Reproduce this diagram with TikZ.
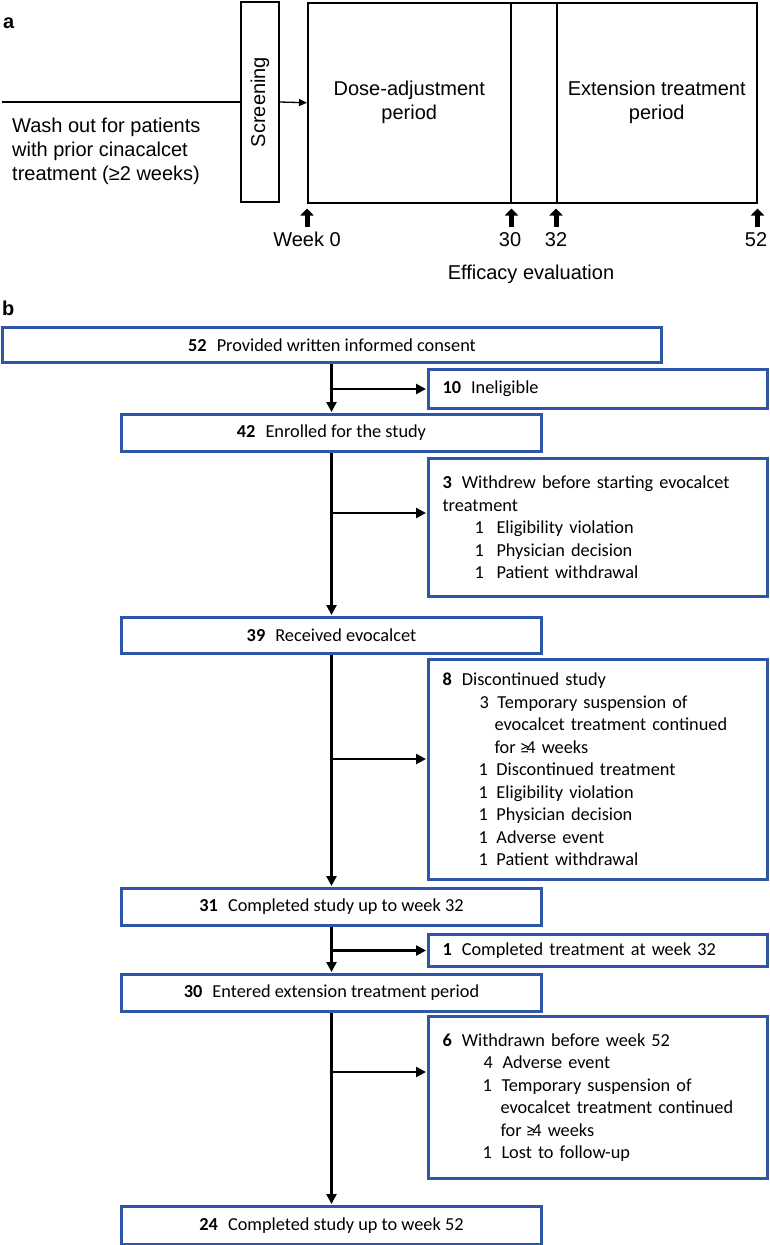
\documentclass[tikz,border=0pt]{standalone}
\usepackage{fontspec}
\usepackage{graphicx}
\setmainfont{Carlito}
\newfontfamily\arialf{Liberation Sans}
\usetikzlibrary{arrows.meta}
\definecolor{boxblue}{RGB}{47,87,168}
\newcommand{\itm}[4]{\hspace*{#1pt}\makebox[\dimexpr #2pt - #1pt\relax][l]{#3}#4}
\newcommand{\cnt}[2]{\hspace*{#1pt}#2}
\newcommand{\bnum}[1]{\textbf{#1}\hspace{0.55em}}
\newcommand{\geqf}{\kern-2pt≥\kern-2.5pt}
\begin{document}
\begin{tikzpicture}[x=1pt,y=-1pt,
  afont/.style={font=\arialf\fontsize{20}{24}\selectfont},
  bfont/.style={font=\fontsize{18.3}{22.5}\selectfont},
  abox/.style={draw, line width=1.5pt, inner sep=0pt},
  mainbox/.style={draw=boxblue, line width=3pt, bfont, minimum width=420pt, minimum height=37pt, inner sep=0pt, anchor=north west},
  sidebox/.style={draw=boxblue, line width=3pt, bfont, text width=311pt, inner xsep=14pt, inner ysep=0pt, minimum width=339pt, align=left, anchor=north west},
  flow/.style={line width=2.5pt, shorten >=1pt, -{Triangle[length=10pt,width=10pt]}},
  weekarrow/.style={line width=5pt, -{Triangle[length=7pt,width=13pt]}},
  thinline/.style={line width=1.3pt}
  ]
\useasboundingbox (0,0) rectangle (769,1245);

% ---------- panel a ----------
\node[afont, anchor=base west, inner sep=0pt] (la) at (3,28) {\bfseries a};
\coordinate (wstart) at (2,102);
\node[abox, afont, minimum width=38pt, minimum height=200pt] (scr) at (260,102) {\rotatebox{90}{Screening}};
\node[abox, afont, minimum width=203pt, minimum height=200pt, anchor=north west, align=center] (dose) at (307,2) {Dose-adjustment\\period};
\node[abox, minimum width=46pt, minimum height=200pt, anchor=north west] (gap) at (510,2) {};
\node[abox, afont, minimum width=200pt, minimum height=200pt, anchor=north west, align=center] (ext) at (556,2) {Extension treatment\\period};
\draw[thinline] (wstart) -- (scr.west);
\draw[thinline, -{Triangle[length=8pt,width=7pt]}] (scr.east) -- (dose.west);
\node[afont, align=left, anchor=north west, inner sep=0pt] (wash) at (12,118) {Wash out for patients\\with prior cinacalcet\\treatment (≥2 weeks)};

\draw[weekarrow] ([yshift=-23pt]dose.south west) -- ([yshift=-5pt]dose.south west);
\draw[weekarrow] ([yshift=-23pt]dose.south east) -- ([yshift=-5pt]dose.south east);
\draw[weekarrow] ([yshift=-23pt]ext.south west) -- ([yshift=-5pt]ext.south west);
\draw[weekarrow] ([yshift=-23pt]ext.south east) -- ([yshift=-5pt]ext.south east);
\node[afont, anchor=base] (w0) at (307,246) {Week 0};
\node[afont, anchor=base] (w30) at (510,246) {30};
\node[afont, anchor=base] (w32) at (556,246) {32};
\node[afont, anchor=base] (w52) at (756,246) {52};
\node[afont, anchor=base] (eff) at (531,279) {Efficacy evaluation};

% ---------- panel b ----------
\node[afont, anchor=base west, inner sep=0pt] (lb) at (2,315) {\bfseries b};

\node[mainbox, minimum width=659pt, minimum height=35pt] (b52) at (1,326) {\bnum{52}Provided written informed consent};
\node[mainbox] (b42) at (120,413) {\bnum{42}Enrolled for the study};
\node[mainbox, minimum height=36pt] (b39) at (120,616) {\bnum{39}Received evocalcet};
\node[mainbox] (b31) at (120,887) {\bnum{31}Completed study up to week 32};
\node[mainbox] (b30) at (120,973) {\bnum{30}Entered extension treatment period};
\node[mainbox, minimum height=38pt] (b24) at (120,1205) {\bnum{24}Completed study up to week 52};

\node[sidebox, minimum height=39pt] (inel) at (427,368) {\bnum{10}Ineligible};
\node[sidebox, minimum height=138pt] (wd) at (427,457) {\bnum{3}Withdrew before starting evocalcet\\
treatment\\
\itm{32}{54}{1}{Eligibility violation}\\
\itm{32}{54}{1}{Physician decision}\\
\itm{32}{54}{1}{Patient withdrawal}};
\node[sidebox, minimum height=220pt] (dc) at (427,658) {\bnum{8}Discontinued study\\
\itm{37}{55}{3}{Temporary suspension of}\\
\cnt{52}{evocalcet treatment continued}\\
\cnt{52}{for \geqf4 weeks}\\
\itm{36}{54}{1}{Discontinued treatment}\\
\itm{36}{54}{1}{Eligibility violation}\\
\itm{36}{54}{1}{Physician decision}\\
\itm{36}{54}{1}{Adverse event}\\
\itm{36}{54}{1}{Patient withdrawal}};
\node[sidebox, minimum height=32pt] (ct) at (427,933) {\bnum{1}Completed treatment at week 32};
\node[sidebox, minimum height=162pt] (wn) at (427,1015) {\bnum{6}Withdrawn before week 52\\
\itm{41}{60}{4}{Adverse event}\\
\itm{40}{59}{1}{Temporary suspension of}\\
\cnt{58}{evocalcet treatment continued}\\
\cnt{58}{for \geqf4 weeks}\\
\itm{40}{59}{1}{Lost to follow-up}};

\coordinate (j2) at (330,513);
\coordinate (j3) at (330,759);
\coordinate (j5) at (330,1072);
\draw[flow] (b52.south -| b42.north) -- (b42.north);
\draw[flow] (b42.north |- inel.west) -- (inel.west);
\draw[flow] (b42.south) -- (b39.north);
\draw[flow] (j2) -- (j2 -| wd.west);
\draw[flow] (b39.south) -- (b31.north);
\draw[flow] (j3) -- (j3 -| dc.west);
\draw[flow] (b31.south) -- (b30.north);
\draw[flow] (b31.south |- ct.west) -- (ct.west);
\draw[flow] (b30.south) -- (b24.north);
\draw[flow] (j5) -- (j5 -| wn.west);
\end{tikzpicture}
\end{document}
